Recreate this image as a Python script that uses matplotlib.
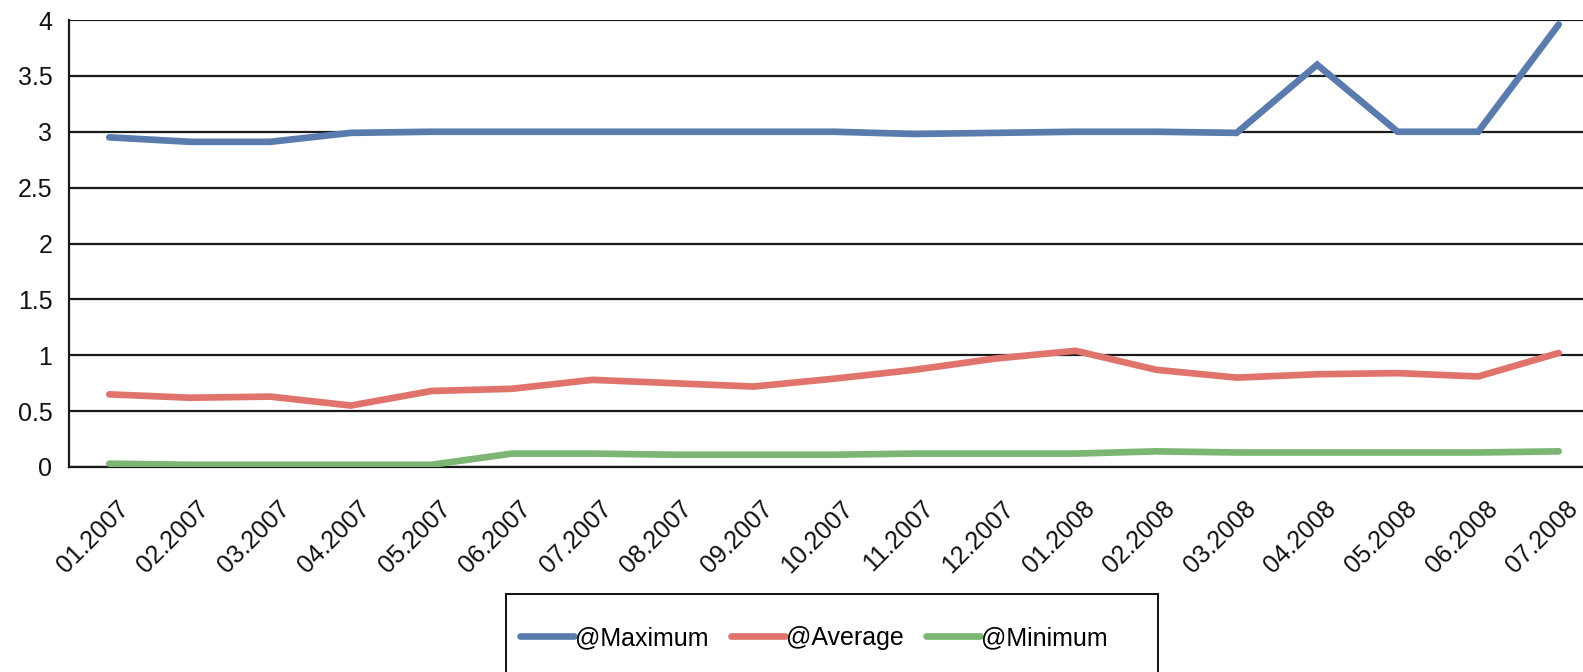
import matplotlib.pyplot as plt
from matplotlib.patches import Rectangle
from matplotlib.transforms import ScaledTranslation

plt.rcParams['font.family'] = ['Liberation Sans', 'DejaVu Sans']

# Data
months = ['01.2007', '02.2007', '03.2007', '04.2007', '05.2007', '06.2007',
          '07.2007', '08.2007', '09.2007', '10.2007', '11.2007', '12.2007',
          '01.2008', '02.2008', '03.2008', '04.2008', '05.2008', '06.2008',
          '07.2008']
maximum = [2.95, 2.91, 2.91, 2.99, 3.0, 3.0, 3.0, 3.0, 3.0, 3.0,
           2.98, 2.99, 3.0, 3.0, 2.99, 3.60, 3.0, 3.0, 3.96]
average = [0.65, 0.62, 0.63, 0.55, 0.68, 0.70, 0.78, 0.75, 0.72, 0.79,
           0.87, 0.97, 1.04, 0.87, 0.80, 0.83, 0.84, 0.81, 1.02]
minimum = [0.03, 0.02, 0.02, 0.02, 0.02, 0.12, 0.12, 0.11, 0.11, 0.11,
           0.12, 0.12, 0.12, 0.14, 0.13, 0.13, 0.13, 0.13, 0.14]
yticks = [0, 0.5, 1, 1.5, 2, 2.5, 3, 3.5, 4]
ytick_labels = ['0', '0.5', '1', '1.5', '2', '2.5', '3', '3.5', '4']

blue = '#5A7BAD'
red = '#E0736C'
green = '#7CB574'

W, H = 1583, 672
fig = plt.figure(figsize=(W / 100, H / 100), dpi=100)

# axes run past the right edge of the picture, like the cropped original
left_px, right_px = 69, 1599
top_px, bottom_px = 20, 467
ax = fig.add_axes([left_px / W, 1 - bottom_px / H,
                   (right_px - left_px) / W, (bottom_px - top_px) / H])

x = list(range(len(months)))
lw = 4.8
ax.plot(x, maximum, color=blue, lw=lw, solid_capstyle='round',
        solid_joinstyle='miter', label='@Maximum', zorder=3)
ax.plot(x, average, color=red, lw=lw, solid_capstyle='round',
        solid_joinstyle='miter', label='@Average', zorder=3)
ax.plot(x, minimum, color=green, lw=lw, solid_capstyle='round',
        solid_joinstyle='miter', label='@Minimum', zorder=3)

ax.set_xlim(-0.5, len(months) - 0.5)
ax.set_ylim(0, 4)
ax.set_yticks(yticks)
ax.set_yticklabels(ytick_labels)
ax.yaxis.grid(True, color='#1a1a1a', lw=1.6)
ax.set_axisbelow(True)

for side in ['top', 'right']:
    ax.spines[side].set_visible(False)
for side in ['left', 'bottom']:
    ax.spines[side].set_linewidth(1.6)
    ax.spines[side].set_color('#1a1a1a')

ax.tick_params(axis='y', length=0, pad=12, labelsize=18, labelcolor='#111111')
ax.tick_params(axis='x', length=0, pad=21, labelsize=18, labelcolor='#111111')
ax.set_xticks(x)
ax.set_xticklabels(months, rotation=45, ha='right', va='top',
                   rotation_mode='anchor')
shift = ScaledTranslation(7 / 100, 0, fig.dpi_scale_trans)
for lab in ax.get_xticklabels():
    lab.set_transform(lab.get_transform() + shift)

# legend box, cut off at the bottom of the picture
fig.patches.append(Rectangle((506 / W, -0.05), 652 / W, 0.05 + 1 - 594 / H,
                             transform=fig.transFigure, fill=False,
                             edgecolor='#111111', lw=1.4))
fig.legend(loc='center left', bbox_to_anchor=(520 / W, 1 - 638 / H),
           ncol=3, frameon=False, fontsize=18, handlelength=2.16,
           handletextpad=0.04, columnspacing=0.9, borderpad=0,
           borderaxespad=0)

fig.savefig('out.png', dpi=100)
